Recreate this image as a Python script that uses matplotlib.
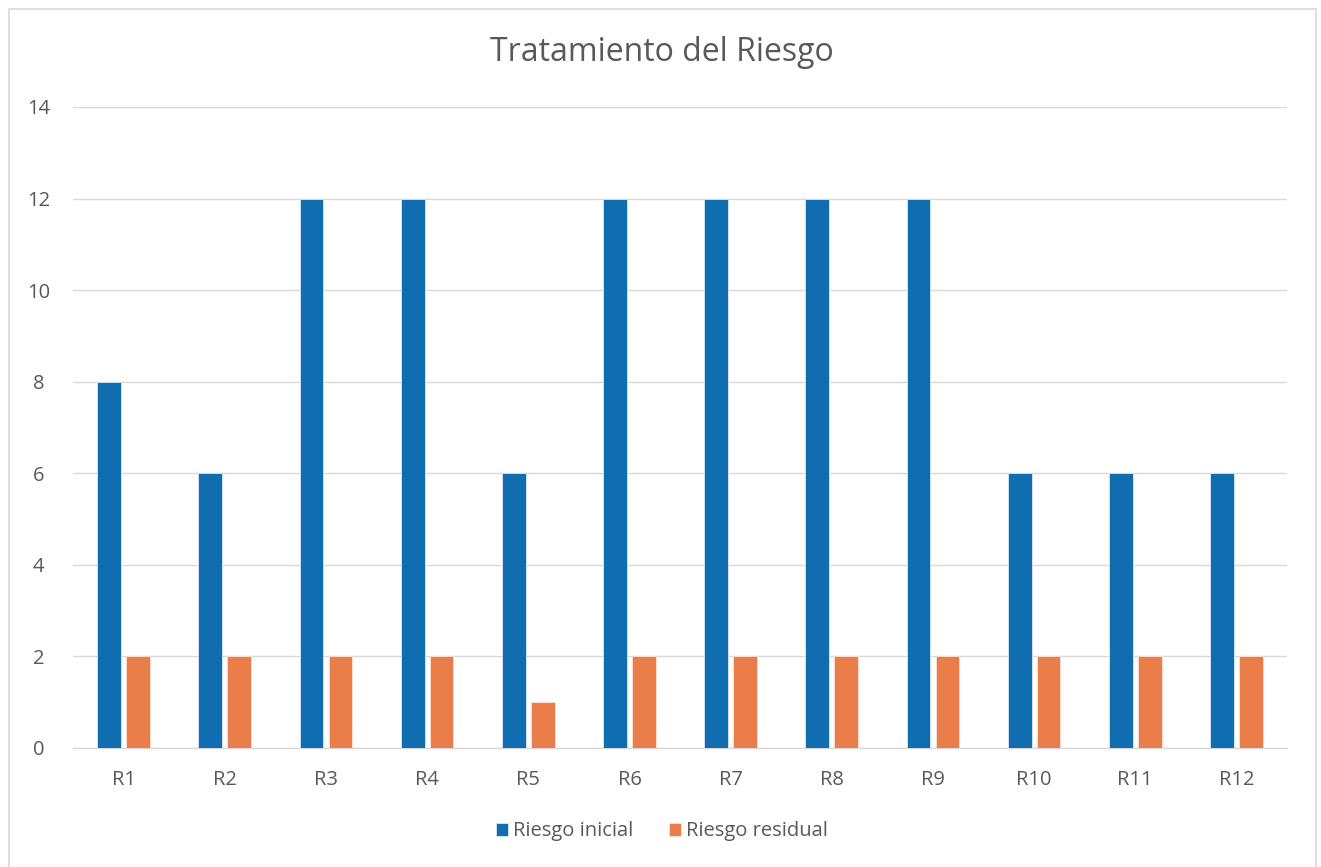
import matplotlib
matplotlib.use('Agg')
import matplotlib.pyplot as plt
import numpy as np
from matplotlib.patches import Rectangle

plt.rcParams['font.family'] = ['Open Sans', 'DejaVu Sans']

categories = ['R1', 'R2', 'R3', 'R4', 'R5', 'R6', 'R7', 'R8', 'R9', 'R10', 'R11', 'R12']
riesgo_inicial = [8, 6, 12, 12, 6, 12, 12, 12, 12, 6, 6, 6]
riesgo_residual = [2, 2, 2, 2, 1, 2, 2, 2, 2, 2, 2, 2]
y_ticks = [0, 2, 4, 6, 8, 10, 12, 14]

BLUE = '#106EB0'
ORANGE = '#E97E4A'
TEXT = '#595959'

fig = plt.figure(figsize=(13.21, 8.67), dpi=100)
ax = fig.add_axes([0.0553, 0.1373, 0.919, 0.7393])

x = np.arange(len(categories))
w = 0.235
off = 0.143
ax.bar(x - off, riesgo_inicial, w, color=BLUE, label='Riesgo inicial',
       edgecolor='#DCE9F4', linewidth=0.6, zorder=3)
ax.bar(x + off, riesgo_residual, w, color=ORANGE, label='Riesgo residual',
       edgecolor='#FBE5D9', linewidth=0.6, zorder=3)

ax.set_xlim(-0.5, len(categories) - 0.5)
ax.set_ylim(0, 14)
ax.set_yticks(y_ticks)
ax.set_xticks(x)
ax.set_xticklabels(categories)
ax.yaxis.grid(True, color='#D9D9D9', linewidth=1.0, zorder=0)
ax.set_axisbelow(True)
for s in ['top', 'right', 'left']:
    ax.spines[s].set_visible(False)
ax.spines['bottom'].set_color('#D9D9D9')
ax.spines['bottom'].set_linewidth(1.0)
ax.tick_params(axis='both', length=0, labelsize=14.5, labelcolor=TEXT)
ax.tick_params(axis='x', pad=16)
ax.tick_params(axis='y', pad=25)
for lbl in ax.get_yticklabels():
    lbl.set_horizontalalignment('center')

fig.text(0.501, 0.94, 'Tratamiento del Riesgo', ha='center', va='center',
         fontsize=23, color=TEXT)

fig.legend(loc='center', bbox_to_anchor=(0.501, 0.041), ncol=2, frameon=False,
           fontsize=14.5, labelcolor=TEXT, handlelength=0.6, handleheight=0.6,
           handletextpad=0.25, columnspacing=1.8)

fig.patches.append(Rectangle((0.007, -0.01), 0.989, 1.0, transform=fig.transFigure,
                             fill=False, edgecolor='#D9D9D9', linewidth=1.2))

fig.savefig('out.png', dpi=100)
